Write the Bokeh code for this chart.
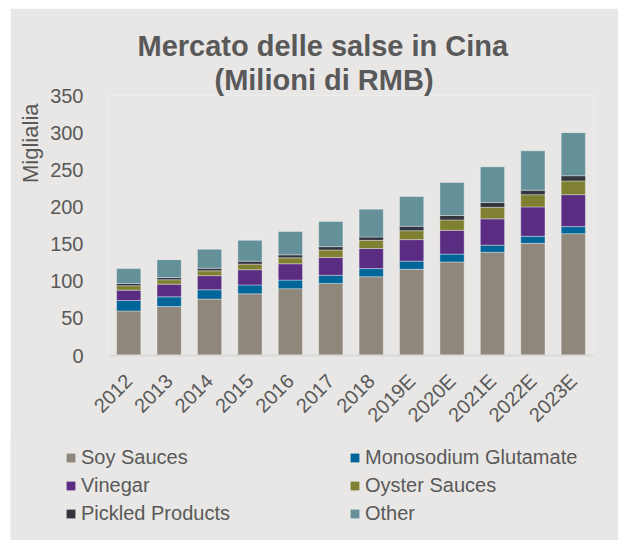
import math
from bokeh.plotting import figure
from bokeh.layouts import column, row
from bokeh.models import (Range1d, FactorRange, Legend, LegendItem, Title,
                          FixedTicker, Spacer)
from bokeh.embed import file_html
from bokeh.resources import INLINE

years = ["2012", "2013", "2014", "2015", "2016", "2017", "2018",
         "2019E", "2020E", "2021E", "2022E", "2023E"]
soy_sauces = [60, 66, 76, 83, 90, 97, 106, 116, 126, 139, 151, 164]
monosodium_glutamate = [14, 13, 12.5, 12, 11.5, 11, 11, 11, 10.5, 9.5, 9.5, 9.5]
vinegar = [14, 17, 19, 20.5, 22, 24, 27, 29, 32, 35.5, 39.5, 43]
oyster_sauces = [6, 6, 6.5, 7.5, 8, 10, 11, 12, 14, 15.5, 16.5, 18.5]
pickled_products = [3, 3, 3.5, 4, 4, 4.5, 4.5, 6, 6, 6.5, 6, 7]
other = [20, 24, 25.5, 28, 31.5, 34, 37.5, 40, 44.5, 48, 53, 58]

series_names = ["Soy Sauces", "Monosodium Glutamate", "Vinegar",
                "Oyster Sauces", "Pickled Products", "Other"]
series_values = [soy_sauces, monosodium_glutamate, vinegar,
                 oyster_sauces, pickled_products, other]
colors = ["#8f877b", "#006699", "#5a2d82", "#808033", "#33353f", "#649099"]
y_ticks = [0, 50, 100, 150, 200, 250, 300, 350]

BG = "#e8e7e5"
TXT = "#595959"
FONT = "Liberation Sans"
HAS_STANDOFF = "standoff" in Title.properties()

data = {"year": years}
keys = []
for i, vals in enumerate(series_values):
    k = f"s{i}"
    keys.append(k)
    data[k] = vals

W = 608
H1 = 432
H2 = 102

p = figure(x_range=FactorRange(*years), y_range=Range1d(0, 350),
           width=W, height=H1, output_backend="svg", toolbar_location=None,
           min_border_left=93, min_border_right=25, min_border_top=87,
           min_border_bottom=H1 - 87 - 260)
p.background_fill_color = BG
p.border_fill_color = BG
p.outline_line_color = None
p.xgrid.grid_line_color = None
p.ygrid.grid_line_color = None

renderers = p.vbar_stack(keys, x="year", width=0.6, color=colors, source=data,
                         line_color="white", line_alpha=0.35, line_width=1)

# Titles (later-added titles sit closer to the frame)
p.title.text = "Mercato delle salse in Cina"
p.title.text_font = FONT
p.title.text_font_size = "29px"
p.title.text_font_style = "bold"
p.title.text_color = TXT
p.title.align = "left"
p.title.offset = 29
t2 = Title(text="(Milioni di RMB)", text_font=FONT, text_font_size="29px",
           text_font_style="bold", text_color=TXT, align="left", offset=106)
p.add_layout(t2, "above")
if HAS_STANDOFF:
    p.title.standoff = 0
    t2.standoff = 0

# Axes
p.yaxis.ticker = FixedTicker(ticks=y_ticks)
p.yaxis.axis_line_color = None
p.yaxis.major_tick_line_color = None
p.yaxis.minor_tick_line_color = None
p.yaxis.major_label_standoff = 19
p.yaxis.major_label_text_font = FONT
p.yaxis.major_label_text_font_size = "20px"
p.yaxis.major_label_text_color = TXT

p.xaxis.axis_line_color = "#d9d9d9"
p.xaxis.axis_line_width = 2
p.xaxis.major_tick_line_color = None
p.xaxis.minor_tick_line_color = None
p.xaxis.major_label_orientation = math.pi / 4
p.xaxis.major_label_standoff = 16
p.xaxis.major_label_text_font = FONT
p.xaxis.major_label_text_font_size = "20px"
p.xaxis.major_label_text_color = TXT

ylab = Title(text="Miglialia", text_font=FONT, text_font_size="22px",
             text_font_style="normal", text_color=TXT, align="right", offset=8)
p.add_layout(ylab, "left")

# Legend strip below the chart (hidden copy of the stack supplies the swatches)
p2 = figure(width=W, height=H2, x_range=FactorRange(*years), y_range=Range1d(-2, -1),
            x_axis_type=None, y_axis_type=None, output_backend="svg",
            toolbar_location=None, min_border=0)
p2.margin = (-2, 0, 0, 0)
p2.background_fill_color = BG
p2.border_fill_color = BG
p2.outline_line_color = None
swatches = p2.vbar_stack(keys, x="year", width=0.6, color=colors, source=data,
                         line_color=None)
for r in swatches:
    r.visible = False
items = [LegendItem(label=n, renderers=[r]) for n, r in zip(series_names, swatches)]
legend = Legend(items=items, orientation="horizontal", ncols=2,
                location=(55, 15),
                label_text_font=FONT, label_text_font_size="20px",
                label_text_color=TXT, glyph_width=11, glyph_height=11,
                label_standoff=5, label_width=263, label_height=20, spacing=5,
                padding=0, margin=0, background_fill_alpha=0,
                border_line_color=None, inactive_fill_alpha=0)
p2.add_layout(legend, "center")

page = column(Spacer(width=618, height=8),
              row(Spacer(width=10, height=H1 + H2 - 2), column(p, row(p2))))

open("out.html", "w").write(file_html(page, INLINE))
